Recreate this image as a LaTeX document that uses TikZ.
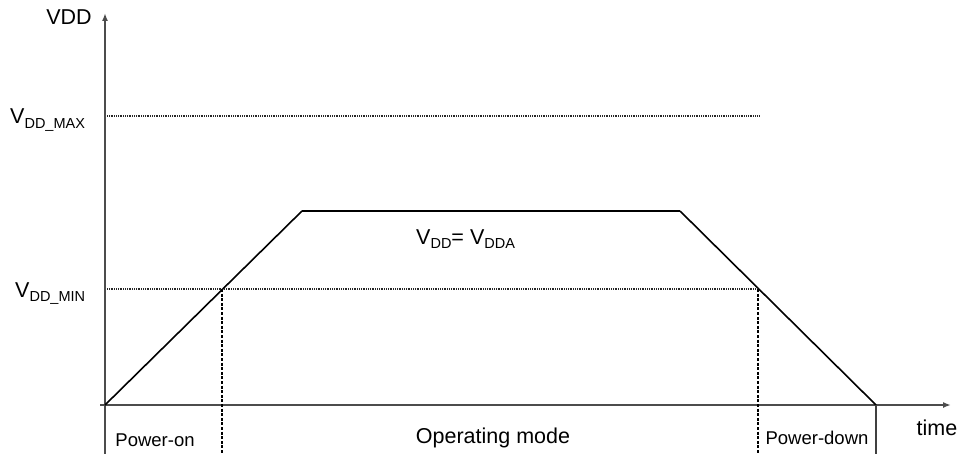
\documentclass[tikz,border=0pt]{standalone}
\usepackage{fontspec}
\setmainfont{Liberation Sans}
\usepackage{tikz}
\usetikzlibrary{arrows.meta,positioning}
\newcommand{\vdd}[1]{V\raisebox{-4.5pt}{\fontsize{14.5}{15}\selectfont #1}}

\begin{document}
\begin{tikzpicture}[
  x=1pt, y=-1pt,
  axis/.style={line width=2pt,draw=black!70,-{Latex[length=8pt,width=6pt]}},
  supply/.style={line width=1.6pt},
  flat/.style={line width=2.8pt},
  level/.style={line width=1.1pt,dash pattern=on 1pt off 0.8pt,draw=black!85},
  marker/.style={line width=1.2pt,dash pattern=on 3pt off 1.6pt},
  divider/.style={line width=1.8pt,draw=black!75},
  big/.style={font=\fontsize{21.5}{24}\selectfont,inner sep=0pt},
  small/.style={font=\fontsize{18.5}{20}\selectfont,inner sep=0pt}
]
\useasboundingbox (0,0) rectangle (957,454);

% axes
\coordinate (ybot) at (105,454);
\coordinate (ytop) at (105,13);
\coordinate (xleft) at (100,405);
\coordinate (xright) at (951,405);
\draw[axis] (ybot) -- (ytop);
\draw[axis] (xleft) -- (xright);

% supply curve
\coordinate (start) at (105,405);
\coordinate (rise) at (302,211);
\coordinate (fall) at (680,211);
\coordinate (stop) at (876,405);
\coordinate (onmin) at (222,289);
\coordinate (offmin) at (758,289);
\draw[supply] (start) -- (rise);
\draw[flat] (rise) -- (fall);
\draw[supply] (fall) -- (stop);

% limits
\coordinate (maxl) at (107,116);
\coordinate (maxr) at (760,116);
\coordinate (minl) at (107,289);
\draw[level] (maxl) -- (maxr);
\draw[level] (minl) -- (offmin);

% phase borders
\coordinate (onbot) at (222,454);
\coordinate (offbot) at (758,454);
\coordinate (stopbot) at (876,454);
\draw[marker] (onmin) -- (onbot);
\draw[marker] (offmin) -- (offbot);
\draw[divider] (stop) -- (stopbot);

% labels
\node[big] (vddlab) at (69,17) {VDD};
\node[big,anchor=base west] (maxlab) at (10,124) {\vdd{DD\_MAX}};
\node[big,anchor=base west] (minlab) at (15,297) {\vdd{DD\_MIN}};
\node[big,anchor=base west] (eqlab) at (416,244) {\vdd{DD}= \vdd{DDA}};
\node[big] (timelab) at (937,428) {time};
\node[small] (onlab) at (155,440) {Power-on};
\node[big] (oplab) at (493,438) {Operating mode};
\node[small] (downlab) at (817,438) {Power-down};
\end{tikzpicture}
\end{document}
